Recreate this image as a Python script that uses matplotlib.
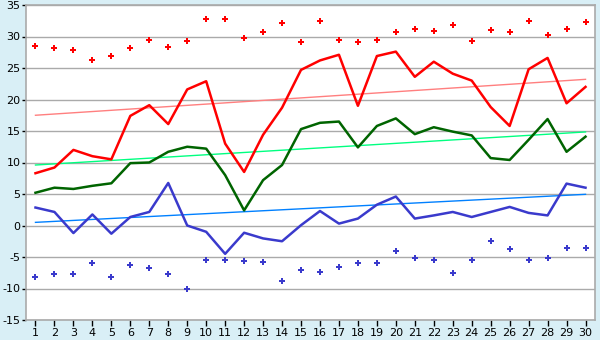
import numpy as np
import matplotlib
matplotlib.use("Agg")
import matplotlib.pyplot as plt

days = list(range(1, 31))

red_line = [8.3, 9.2, 12.0, 11.0, 10.5, 17.4, 19.1, 16.1, 21.6, 22.9,
            13.0, 8.5, 14.4, 18.7, 24.7, 26.2, 27.1, 19.0, 26.9, 27.6,
            23.6, 26.0, 24.1, 23.0, 18.8, 15.8, 24.8, 26.6, 19.4, 22.0]
red_pts = [28.5, 28.1, 27.9, 26.3, 26.9, 28.2, 29.5, 28.4, 29.3, 32.8,
           32.8, 29.8, 30.7, 32.2, 29.2, 32.5, 29.5, 29.2, 29.5, 30.7,
           31.2, 30.9, 31.9, 29.3, 31.1, 30.7, 32.5, 30.3, 31.2, 32.3]
green_line = [5.2, 6.0, 5.8, 6.3, 6.7, 9.9, 10.0, 11.7, 12.5, 12.2,
              8.0, 2.4, 7.2, 9.6, 15.3, 16.3, 16.5, 12.4, 15.8, 17.0,
              14.5, 15.6, 14.9, 14.3, 10.7, 10.4, 13.6, 16.9, 11.7, 14.1]
blue_line = [2.85, 2.15, -1.2, 1.75, -1.3, 1.35, 2.15, 6.75, 0.0, -1.0,
             -4.5, -1.15, -2.05, -2.5, 0.05, 2.3, 0.3, 1.1, 3.3, 4.6,
             1.1, 1.6, 2.15, 1.35, 2.15, 2.95, 2.0, 1.6, 6.65, 6.0]
blue_pts = [-8.1, -7.75, -7.75, -6.0, -8.1, -6.3, -6.8, -7.75, -10.1, -5.5,
            -5.4, -5.65, -5.85, -8.8, -7.1, -7.45, -6.65, -6.0, -6.0, -4.1,
            -5.1, -5.55, -7.6, -5.4, -2.5, -3.8, -5.55, -5.2, -3.65, -3.5]
# trend lines: value at first and last day
red_trend = [17.5, 23.2]
green_trend = [9.6, 14.85]
blue_trend = [0.5, 4.95]

plt.rcParams["axes.unicode_minus"] = False

BG = "#d9eff6"
fig = plt.figure(figsize=(6, 3.4), dpi=100, facecolor=BG)
ax = fig.add_axes([26 / 600, 20 / 340, 569 / 600, 315 / 340])
ax.set_facecolor("white")

ax.set_xlim(0.5, 30.5)
ax.set_ylim(-15, 35)
ax.set_yticks(range(-15, 36, 5))
ax.set_xticks(days)
ax.yaxis.grid(True, color="#aaaaaa", lw=1)
ax.set_axisbelow(True)

ends = [days[0], days[-1]]
ax.plot(ends, red_trend, color="#ff7f7f", lw=1)
ax.plot(ends, green_trend, color="#00ff80", lw=1)
ax.plot(ends, blue_trend, color="#0080ff", lw=1)

ax.plot(days, red_line, color="#ff0000", lw=1.8)
ax.plot(days, green_line, color="#006400", lw=1.8)
ax.plot(days, blue_line, color="#3a3acc", lw=1.8)
ax.plot(days, red_pts, ls="none", marker="P", ms=4.2, color="#ff0000", mew=0)
ax.plot(days, blue_pts, ls="none", marker="P", ms=4.2, color="#3a3acc", mew=0)

for s in ax.spines.values():
    s.set_color("#aaaaaa")
    s.set_linewidth(1.2)
ax.tick_params(axis="both", colors="black", labelsize=8, length=4, width=1)
ax.tick_params(axis="x", pad=2)
ax.tick_params(axis="y", pad=1, length=3)

fig.savefig("out.png", dpi=100, facecolor=BG)
